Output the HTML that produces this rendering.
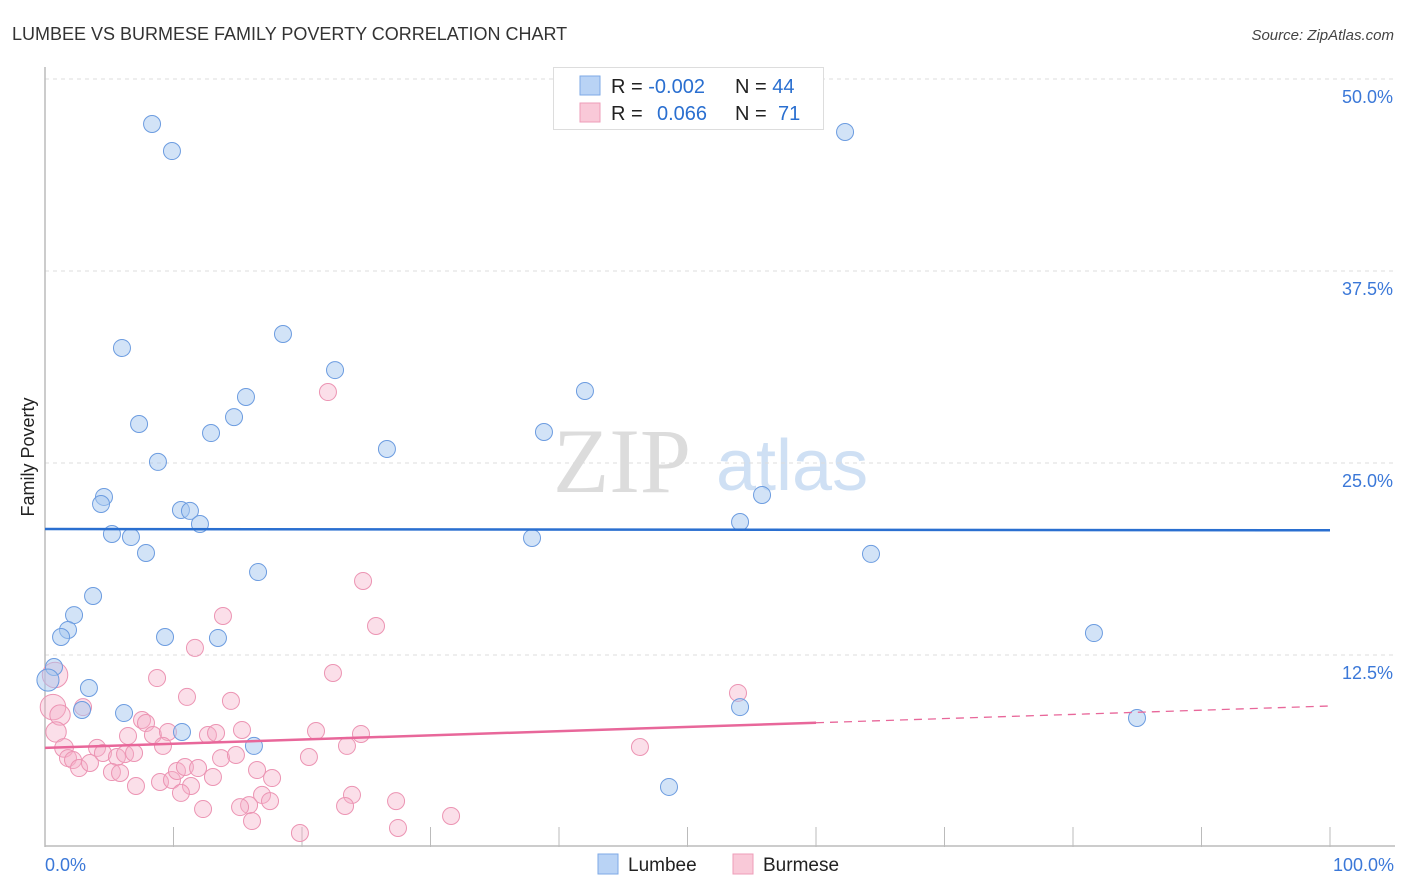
<!DOCTYPE html>
<html><head><meta charset="utf-8"><style>
body{margin:0;background:#fff;font-family:"Liberation Sans",sans-serif}
#wrap{position:relative;width:1406px;height:892px;overflow:hidden}
</style></head><body>
<div id="wrap">
<svg id="svg" width="1406" height="892" xmlns="http://www.w3.org/2000/svg">
<text x="12" y="40" font-size="18" fill="#333">LUMBEE VS BURMESE FAMILY POVERTY CORRELATION CHART</text>
<text x="1394" y="40" font-size="15" fill="#444" font-style="italic" text-anchor="end">Source: ZipAtlas.com</text>
<text x="34" y="457" font-size="18" fill="#222" text-anchor="middle" transform="rotate(-90 34 457)">Family Poverty</text>
<g>
<text x="553" y="492" font-size="92" font-family="Liberation Serif,serif" fill="#dcdcdc">ZIP</text>
<text x="716" y="490" font-size="72" fill="#cfe0f4">atlas</text>
</g>
<g id="grid"></g><g id="axes"></g><g id="pink"></g><g id="blue"></g><g id="lines"></g>
<g>
<rect x="553.5" y="67.5" width="270" height="62" fill="#fff" stroke="#ddd"/>
<rect x="580" y="76" width="20" height="19" fill="#b9d3f5" stroke="#7ea9e6"/>
<rect x="580" y="103" width="20" height="19" fill="#f9c9d8" stroke="#ee9db8"/>
<text x="611" y="93" font-size="20" fill="#222">R = <tspan fill="#2a6fd0">-0.002</tspan></text>
<text x="735" y="93" font-size="20" fill="#222">N = <tspan fill="#2a6fd0">44</tspan></text>
<text x="611" y="120" font-size="20" fill="#222">R = <tspan fill="#2a6fd0" x="657">0.066</tspan></text>
<text x="735" y="120" font-size="20" fill="#222">N = <tspan fill="#2a6fd0" x="778">71</tspan></text>
</g>
<g>
<rect x="598" y="854" width="20" height="20" fill="#b9d3f5" stroke="#7ea9e6"/>
<text x="628" y="871" font-size="19" fill="#222">Lumbee</text>
<rect x="733" y="854" width="20" height="20" fill="#f9c9d8" stroke="#ee9db8"/>
<text x="763" y="871" font-size="19" fill="#222">Burmese</text>
</g>
</svg>
</div>
<script>
const yTicks=[12.5,25,37.5,50];
const yTickLabels=["12.5%","25.0%","37.5%","50.0%"];
const xTickLabels=["0.0%","100.0%"];
const blueX=[8.33,9.88,62.26,5.99,18.52,22.57,15.64,42.02,7.32,14.71,12.92,38.83,26.61,8.79,4.59,4.36,10.58,11.28,12.06,5.21,6.69,37.90,7.86,54.09,55.80,64.28,16.58,3.74,2.26,1.79,1.25,9.34,13.46,81.63,0.70,0.23,3.42,6.15,2.88,54.09,84.98,10.66,16.26,48.56];
const blueY=[47.07,45.31,46.55,32.49,33.40,31.05,29.30,29.69,27.54,27.99,26.95,27.02,25.91,25.07,22.79,22.33,21.94,21.88,21.03,20.38,20.18,20.12,19.14,21.16,22.92,19.08,17.90,16.34,15.10,14.13,13.67,13.67,13.61,13.93,11.72,10.87,10.35,8.72,8.92,9.11,8.40,7.49,6.58,3.91];
const blueSize=[1,1,1,1,1,1,1,1,1,1,1,1,1,1,1,1,1,1,1,1,1,1,1,1,1,1,1,1,1,1,1,1,1,1,1,1.3,1,1,1,1,1,1,1,1];
const pinkX=[24.75,25.76,13.85,11.67,8.72,22.41,11.05,14.47,2.96,0.78,0.62,1.17,0.86,7.55,7.86,6.46,8.40,9.57,9.18,12.68,13.31,15.33,21.09,24.59,23.50,1.48,1.79,2.18,2.65,3.50,4.05,4.51,5.60,6.23,6.93,5.21,5.84,7.08,8.95,9.88,10.27,10.89,11.91,11.36,10.58,13.07,13.70,14.86,16.50,17.67,16.89,17.51,15.88,15.18,16.11,12.30,20.54,19.84,23.89,23.35,27.32,27.47,31.60,22.02,46.30,53.93];
const pinkY=[17.32,14.39,15.04,12.96,11.00,11.33,9.77,9.51,9.11,11.20,9.11,8.59,7.49,8.27,8.07,7.23,7.29,7.49,6.58,7.29,7.42,7.62,7.55,7.36,6.58,6.45,5.79,5.66,5.14,5.47,6.45,6.12,5.86,6.05,6.12,4.88,4.82,3.97,4.23,4.36,4.95,5.21,5.14,3.97,3.52,4.56,5.79,5.99,5.01,4.49,3.39,2.99,2.73,2.60,1.69,2.47,5.86,0.91,3.39,2.67,2.99,1.24,2.02,29.62,6.51,10.03];
const pinkSize=[1,1,1,1,1,1,1,1,1,1.5,1.5,1.2,1.2,1,1,1,1,1,1,1,1,1,1,1,1,1.1,1,1,1,1,1,1,1,1,1,1,1,1,1,1,1,1,1,1,1,1,1,1,1,1,1,1,1,1,1,1,1,1,1,1,1,1,1,1,1,1];
const blueTrend=[20.7,20.62];
const pinkTrend=[6.45,9.18];
const pinkSolidEnd=60;

const X0=45,X1=1330,Y0=847,PPU=15.36;
const sx=v=>X0+(X1-X0)*v/100;
const sy=v=>Y0-v*PPU;
const NS="http://www.w3.org/2000/svg";
function mk(tag,parent,attrs){const e=document.createElementNS(NS,tag);for(const k in attrs)e.setAttribute(k,attrs[k]);document.getElementById(parent).appendChild(e);return e;}
yTicks.forEach((t,i)=>{
  const g=mk('line','grid',{x1:45,x2:1395,y1:sy(t),y2:sy(t),stroke:'#ddd','stroke-dasharray':'4,4'});
  
  
  const l=mk('text','grid',{x:1393,y:sy(t)+24,'font-size':18,fill:'#3b78d8','text-anchor':'end'});
  l.textContent=yTickLabels[i];
  
  
});
const ya=mk('line','axes',{x1:45,x2:45,y1:67,y2:847,stroke:'#bbb','stroke-width':1.5});


const xa=mk('line','axes',{x1:45,x2:1395,y1:846,y2:846,stroke:'#bbb','stroke-width':1.5});


for(let k=1;k<=10;k++){
  const t=mk('line','axes',{x1:sx(k*10),x2:sx(k*10),y1:827,y2:847,stroke:'#bbb'});
  
  
}
[[0,'start',45],[100,'end',1394]].forEach((d,i)=>{
  const l=mk('text','axes',{x:d[2],y:871,'font-size':18,fill:'#3b78d8','text-anchor':d[1]});
  l.textContent=xTickLabels[i];
  
  
});
pinkX.forEach((v,i)=>{
  const c=mk('circle','pink',{cx:sx(v),cy:sy(pinkY[i]),r:8.5*pinkSize[i],fill:'rgba(246,176,200,0.4)',stroke:'#ec94b3','stroke-width':1});
  
  
});
blueX.forEach((v,i)=>{
  const c=mk('circle','blue',{cx:sx(v),cy:sy(blueY[i]),r:8.5*blueSize[i],fill:'rgba(166,199,240,0.5)',stroke:'#6c9ce0','stroke-width':1});
  
  
});
const bl=mk('line','lines',{x1:sx(0),x2:sx(100),y1:sy(blueTrend[0]),y2:sy(blueTrend[1]),stroke:'#2a6fd0','stroke-width':2.5});


const pm=pinkTrend[0]+(pinkTrend[1]-pinkTrend[0])*pinkSolidEnd/100;
const pl=mk('line','lines',{x1:sx(0),x2:sx(pinkSolidEnd),y1:sy(pinkTrend[0]),y2:sy(pm),stroke:'#e8679a','stroke-width':2.5});


const pd=mk('line','lines',{x1:sx(pinkSolidEnd),x2:sx(100),y1:sy(pm),y2:sy(pinkTrend[1]),stroke:'#e8679a','stroke-width':1.3,'stroke-dasharray':'8,6'});


</script>
</body></html>
